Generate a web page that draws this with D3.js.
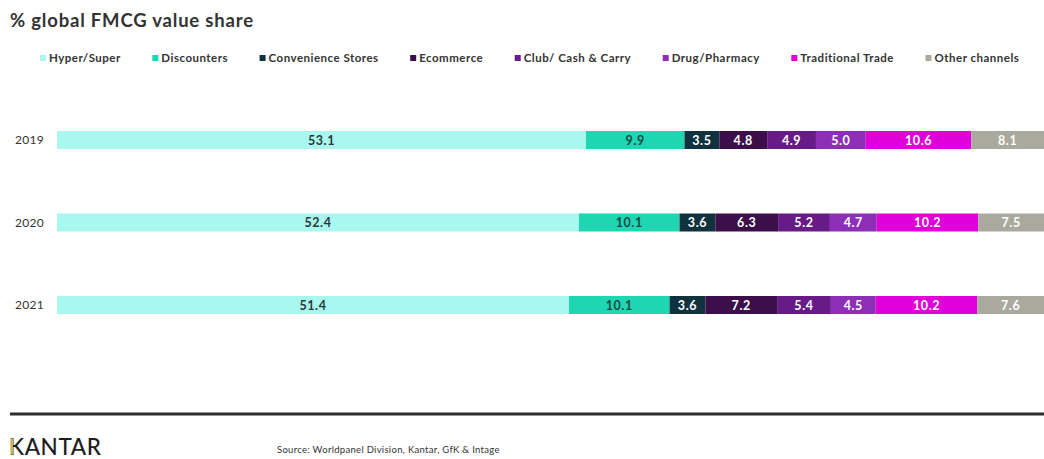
<!DOCTYPE html>
<html>
<head>
<meta charset="utf-8">
<script src="https://cdn.jsdelivr.net/npm/d3@7/dist/d3.min.js"></script>
<style>
  html, body { margin: 0; padding: 0; background: #fff; }
  svg { display: block; font-family: Lato, "Noto Sans", sans-serif; }
</style>
</head>
<body>
<svg id="chart" width="1044" height="459"></svg>
<script>
// Channel shares of global FMCG value, by year (%)
const years = ["2019", "2020", "2021"];
const channels = ["Hyper/Super", "Discounters", "Convenience Stores", "Ecommerce",
                  "Club/ Cash & Carry", "Drug/Pharmacy", "Traditional Trade", "Other channels"];
const share2019 = [53.1, 9.9, 3.5, 4.8, 4.9, 5.0, 10.6, 8.1];
const share2020 = [52.4, 10.1, 3.6, 6.3, 5.2, 4.7, 10.2, 7.5];
const share2021 = [51.4, 10.1, 3.6, 7.2, 5.4, 4.5, 10.2, 7.6];
const channelColors = ["#a9f8f0", "#1fd6b3", "#10323e", "#3c0f4a",
                       "#681b86", "#8d2fb6", "#e000da", "#a9aa9d"];
const labelColors = ["#2b3838", "#1d4944", "#ffffff", "#ffffff",
                     "#ffffff", "#ffffff", "#ffffff", "#ffffff"];

const sharesByYear = [share2019, share2020, share2021];

// one row per year, keyed by channel
const rows = years.map((y, i) => {
  const r = { year: y };
  channels.forEach((c, j) => { r[c] = sharesByYear[i][j]; });
  return r;
});

const svg = d3.select("#chart");

const x = d3.scaleLinear().domain([0, 100]).range([57, 1053]);
const y = d3.scalePoint().domain(years).range([140, 305]);
const barH = 18;
const color = d3.scaleOrdinal().domain(channels).range(channelColors);
const textColor = d3.scaleOrdinal().domain(channels).range(labelColors);

const stacked = d3.stack().keys(channels)(rows);

// title
svg.append("text")
  .attr("x", 10).attr("y", 27)
  .attr("font-size", 18.5).attr("font-weight", 700)
  .attr("letter-spacing", 0.8)
  .attr("fill", "#333")
  .text("% global FMCG value share");

// legend, laid out left to right
const legend = svg.append("g").attr("transform", "translate(40,58)");
let lx = 0;
channels.forEach(c => {
  const g = legend.append("g").attr("transform", `translate(${lx},0)`);
  g.append("rect").attr("x", 0).attr("y", -3).attr("width", 6).attr("height", 6)
    .attr("fill", color(c));
  const t = g.append("text").attr("x", 9).attr("y", 0).attr("dy", "0.35em")
    .attr("font-size", 11.5).attr("font-weight", 700).attr("fill", "#333")
    .attr("letter-spacing", 0.5)
    .text(c);
  lx += 9 + t.node().getComputedTextLength() + 31.5;
});

// year labels
svg.append("g").selectAll("text").data(years).join("text")
  .attr("x", 44).attr("y", d => y(d)).attr("dy", "0.35em")
  .attr("text-anchor", "end").attr("font-size", 12).attr("fill", "#333")
  .attr("letter-spacing", 0.3)
  .text(d => d);

// stacked segments
const layers = svg.append("g").selectAll("g").data(stacked).join("g")
  .attr("fill", d => color(d.key));

layers.selectAll("rect").data(d => d.map(p => ({ key: d.key, p }))).join("rect")
  .attr("x", d => x(d.p[0]))
  .attr("y", d => y(d.p.data.year) - barH / 2)
  .attr("width", d => x(d.p[1]) - x(d.p[0]))
  .attr("height", barH);

// value labels, centred in the visible part of each segment
const labels = svg.append("g").selectAll("g").data(stacked).join("g");
labels.selectAll("text").data(d => d.map(p => ({ key: d.key, p }))).join("text")
  .attr("x", d => (x(d.p[0]) + Math.min(x(d.p[1]), 1044)) / 2)
  .attr("y", d => y(d.p.data.year))
  .attr("dy", "0.36em")
  .attr("text-anchor", "middle")
  .attr("font-size", 12.5).attr("font-weight", 700)
  .attr("letter-spacing", 0.6)
  .attr("fill", d => textColor(d.key))
  .text(d => d3.format(".1f")(d.p.data[d.key]));

// footer
svg.append("line")
  .attr("x1", 10).attr("x2", 1044).attr("y1", 414).attr("y2", 414)
  .attr("stroke", "#2e2e2e").attr("stroke-width", 3);

svg.append("text")
  .attr("x", 9).attr("y", 454.5)
  .attr("font-size", 22.5).attr("font-weight", 500).attr("fill", "#1e1e1e")
  .attr("letter-spacing", 0.6)
  .text("KANTAR");
svg.append("rect")
  .attr("x", 10.5).attr("y", 438.5).attr("width", 2.5).attr("height", 16)
  .attr("fill", "#d4b24a");

svg.append("text")
  .attr("x", 277).attr("y", 453)
  .attr("font-size", 9.5).attr("fill", "#333")
  .attr("letter-spacing", 0.3)
  .text("Source: Worldpanel Division, Kantar, GfK & Intage");
</script>
</body>
</html>
